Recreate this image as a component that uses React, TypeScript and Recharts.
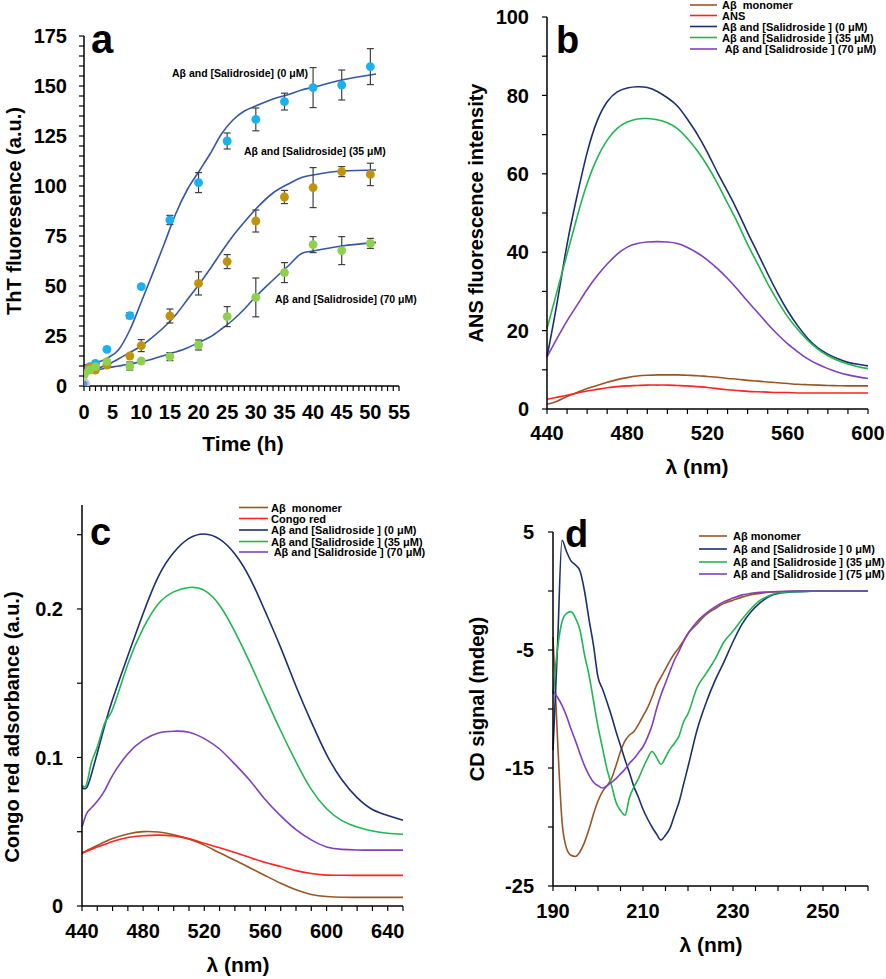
import { ComposedChart, LineChart, Line, Scatter, ErrorBar, XAxis, YAxis, ZAxis } from "recharts";

const FONT = '"Liberation Sans", Arial, Helvetica, sans-serif';

const BROWN = "#9A5524";
const RED = "#FF2222";
const NAVY = "#1C2F70";
const GREEN = "#20B650";
const PURPLE = "#7E40BF";
const FIT = "#3457A3";

// ---- a: ThT kinetics ----
const hours = [0, 1, 2, 4, 8, 10, 15, 20, 25, 30, 35, 40, 45, 50];
const tht0 = [6.3, 9.7, 11.3, 18.3, 35.2, 49.7, 83, 101.7, 122.5, 133.3, 142.2, 149.2, 150.5, 159.7];
const tht0Err = [0, 0, 0, 0, 1.5, 1, 2.3, 5, 4, 5.7, 4.2, 10, 7.5, 9];
const tht35 = [6, 9.3, 8, 10.5, 15, 20.2, 35, 51.3, 62.2, 82.5, 94.5, 99.2, 107.2, 105.8];
const tht35Err = [0, 0, 0, 0, 0, 3, 3.5, 5.8, 3.5, 5.5, 3.3, 10, 2.5, 5.6];
const tht70 = [5.5, 8, 9.7, 12.2, 10, 12.5, 14.7, 20.5, 34.7, 44.3, 56.7, 70.7, 67.7, 71.3];
const tht70Err = [0, 0, 0, 0, 2, 0, 2, 2.5, 5, 9.7, 5, 4, 7, 2.5];

const fitHours = [0, 2, 4, 6, 8, 10, 12, 14, 16, 18, 20, 22, 24, 26, 28, 30, 33, 36, 38, 40, 45, 51];
const fit0 = [10.5, 11.5, 13.8, 18, 28, 42, 56.3, 71, 86, 98, 107, 116, 126, 133, 137.5, 140, 143.5, 146, 148, 149.4, 153, 156];
const fit35 = [7, 8.5, 10.5, 13.5, 16.8, 20, 24.5, 29.5, 35.5, 43, 50.5, 58.5, 67, 75, 82, 88.5, 96.5, 101.5, 104.3, 105.5, 107.5, 108];
const fit70 = [6.3, 7.8, 9, 10, 11, 12.2, 13.5, 15.3, 17, 19, 21.7, 24.5, 28.5, 33, 38.5, 44.7, 53, 61, 66.3, 67.5, 70, 71.8];

// ---- b: ANS fluorescence ----
const ansNm = [440, 445, 450, 455, 460, 465, 470, 475, 480, 485, 490, 495, 500, 505, 510, 515, 520, 525, 530, 535, 540, 545, 550, 555, 560, 565, 570, 575, 580, 585, 590, 595, 600];
const ansMonomer = [1.2, 2, 3.2, 4.2, 5.2, 6, 6.8, 7.5, 8, 8.4, 8.6, 8.7, 8.7, 8.7, 8.6, 8.5, 8.3, 8.1, 7.8, 7.6, 7.3, 7.1, 6.9, 6.7, 6.5, 6.3, 6.2, 6.1, 6, 5.95, 5.9, 5.9, 5.9];
const ansDye = [2.5, 3, 3.5, 4.1, 4.6, 5, 5.4, 5.7, 5.9, 6, 6.1, 6.1, 6.1, 6, 5.9, 5.7, 5.5, 5.2, 4.9, 4.7, 4.5, 4.4, 4.3, 4.2, 4.2, 4.1, 4.1, 4.1, 4.1, 4.1, 4.1, 4.1, 4.1];
const ans0 = [13.3, 27, 42, 54.4, 65.4, 73.5, 78.4, 80.9, 81.9, 82.2, 82, 81, 79.4, 77.3, 73.9, 70, 65.4, 60.3, 55.5, 50.5, 45, 39.8, 34.5, 29.5, 25, 21.2, 18, 15.6, 14, 12.8, 11.9, 11.4, 11];
const ans35 = [20.5, 30, 39.5, 49, 57.5, 64, 68.6, 71.6, 73.2, 74, 74.1, 73.8, 73, 71.5, 69, 65.8, 62, 57.5, 52.5, 47.5, 42, 37, 32, 27.5, 23.5, 20.3, 17.5, 15.3, 13.6, 12.4, 11.5, 10.8, 10.3];
const ans70 = [13.3, 18, 22.5, 26.5, 30.5, 34, 37, 39.5, 41.3, 42.2, 42.6, 42.7, 42.6, 42.2, 41.2, 39.8, 38, 35.8, 33.3, 30.5, 27.5, 24.6, 21.7, 19, 16.6, 14.6, 12.8, 11.4, 10.3, 9.4, 8.7, 8.2, 7.8];

// ---- c: Congo red absorbance ----
const crNm = [440, 443, 446, 450, 455, 460, 470, 480, 490, 500, 510, 520, 530, 540, 550, 560, 570, 580, 590, 600, 610, 620, 630, 640, 650];
const crMonomer = [0.0358, 0.0372, 0.0388, 0.0408, 0.0432, 0.0455, 0.0485, 0.0501, 0.0498, 0.048, 0.0452, 0.041, 0.0358, 0.0308, 0.0256, 0.0204, 0.0153, 0.0109, 0.0078, 0.0064, 0.0059, 0.0058, 0.0058, 0.0058, 0.0058];
const crDye = [0.0353, 0.0368, 0.038, 0.0398, 0.0415, 0.0434, 0.0461, 0.0473, 0.0477, 0.0471, 0.0452, 0.0422, 0.0392, 0.036, 0.0326, 0.0293, 0.0266, 0.0238, 0.0219, 0.0208, 0.0207, 0.0206, 0.0206, 0.0206, 0.0206];
const cr0 = [0.0796, 0.0796, 0.088, 0.103, 0.122, 0.139, 0.1685, 0.197, 0.222, 0.238, 0.2475, 0.2505, 0.247, 0.237, 0.2205, 0.198, 0.174, 0.148, 0.124, 0.102, 0.085, 0.073, 0.065, 0.061, 0.0577];
const cr35 = [0.0812, 0.082, 0.096, 0.107, 0.1235, 0.1325, 0.163, 0.187, 0.2035, 0.2115, 0.2145, 0.2125, 0.2025, 0.1847, 0.1635, 0.1405, 0.118, 0.097, 0.0785, 0.0655, 0.0575, 0.0532, 0.0505, 0.049, 0.0483];
const cr70 = [0.0532, 0.0622, 0.066, 0.0705, 0.078, 0.088, 0.1025, 0.1117, 0.1165, 0.1177, 0.117, 0.1127, 0.1057, 0.0955, 0.0843, 0.0715, 0.0607, 0.0514, 0.0445, 0.0398, 0.0381, 0.0377, 0.0376, 0.0376, 0.0376];

// ---- d: CD spectra ----
const cdNm = [190, 191, 192, 193, 194, 195, 196, 197, 198, 199, 200, 201, 202, 203, 204, 205, 206, 207, 208, 209, 210, 211, 212, 213, 214, 215, 216, 217, 218, 219, 220, 222, 224, 226, 228, 230, 232, 234, 236, 238, 240, 245, 250, 255, 260];
const cdMonomer = [-3.9, -12.5, -19.5, -21.8, -22.4, -22.5, -22.1, -21.3, -20.2, -18.9, -17.8, -17, -16.5, -15.9, -14.8, -13.6, -12.7, -12.2, -11.9, -11.3, -10.6, -9.9, -9, -8, -7.3, -6.6, -5.9, -5.3, -4.8, -4.2, -3.6, -2.8, -2, -1.5, -1.05, -0.78, -0.52, -0.32, -0.2, -0.1, -0.06, 0, 0, 0, 0];
const cd0 = [-13.5, -4.7, 4.3, 3.35, 2.55, 2.2, 1.7, 0, -2.4, -4.6, -7.3, -8.3, -9.4, -10.6, -11.9, -13.1, -14.3, -15.4, -16.6, -17.5, -18.5, -19.3, -20, -20.6, -21.1, -20.7, -20.1, -19, -17.9, -16.4, -14.9, -11.8, -9.5, -7.6, -6, -4.3, -2.8, -1.75, -1, -0.47, -0.2, -0.05, 0, 0, 0];
const cd35 = [-8.7, -4.9, -2.6, -1.9, -1.75, -2.3, -3.3, -5.4, -7.1, -9.3, -11.5, -13.3, -15.1, -16.45, -17.9, -18.6, -19, -17.5, -16.6, -15.9, -15, -14.2, -13.6, -14.1, -14.7, -14.1, -13.4, -12.9, -12.3, -11.1, -10.4, -8.2, -7, -5.8, -4.3, -3.4, -2.4, -1.5, -0.8, -0.4, -0.15, -0.03, 0, 0, 0];
const cd75 = [-8.5, -9, -9.7, -10.6, -11.7, -12.7, -13.8, -14.8, -15.6, -16.2, -16.5, -16.7, -16.5, -16.2, -15.9, -15.5, -15.1, -14.6, -14.2, -13.7, -13.2, -12.4, -11.4, -10, -8.8, -7.8, -6.8, -5.85, -5.1, -4.3, -3.6, -2.6, -1.9, -1.35, -0.9, -0.6, -0.33, -0.2, -0.1, -0.08, -0.05, 0, 0, 0, 0];

const legendB = ["Aβ  monomer", "ANS", "Aβ and [Salidroside ] (0 μM)", "Aβ and [Salidroside ] (35 μM)", " Aβ and [Salidroside ] (70 μM)"];
const legendC = ["Aβ  monomer", "Congo red", "Aβ and [Salidroside ] (0 μM)", "Aβ and [Salidroside ] (35 μM)", " Aβ and [Salidroside ] (70 μM)"];
const legendD = ["Aβ monomer", "Aβ and [Salidroside ] 0 μM)", "Aβ and [Salidroside ] (35 μM)", "Aβ and [Salidroside ] (75 μM)"];

const pts = (ys: number[], errs: number[]) => hours.map((x, i) => ({ x, y: ys[i], err: errs[i] }));
const fitPts = (ys: number[]) => fitHours.map((x, i) => ({ x, y: ys[i] }));

const ansData = ansNm.map((nm, i) => ({ nm, mono: ansMonomer[i], dye: ansDye[i], s0: ans0[i], s35: ans35[i], s70: ans70[i] }));
const crData = crNm.map((nm, i) => ({ nm, mono: crMonomer[i], dye: crDye[i], s0: cr0[i], s35: cr35[i], s70: cr70[i] }));
const cdData = cdNm.map((nm, i) => ({ nm, mono: cdMonomer[i], s0: cd0[i], s35: cd35[i], s75: cd75[i] }));

const range = (a: number, b: number, s: number) => {
  const out: number[] = [];
  for (let v = a; v <= b + 1e-9; v += s) out.push(Math.round(v * 1000) / 1000);
  return out;
};

const tickStyle = { fill: "#000", fontSize: 20, fontWeight: 700, fontFamily: FONT };
const axisLine = { stroke: "#000", strokeWidth: 1.5 };
const tickLine = { stroke: "#000", strokeWidth: 1.2 };

const grayDot = (p: any) => (
  <g>
    <circle cx={p.cx} cy={p.cy} r={6} fill="#C9C9C9" />
    <circle cx={p.cx} cy={p.cy} r={3.5} fill="#5C8FD6" />
  </g>
);

function PanelA() {
  return (
    <ComposedChart width={440} height={480} margin={{ top: 36, right: 41, bottom: 64, left: 24 }}>
      <XAxis type="number" dataKey="x" domain={[0, 55]} ticks={range(0, 55, 1)} interval={0}
        tickFormatter={(v: number) => (v % 5 === 0 ? String(v) : "")} tick={tickStyle} tickSize={5} tickMargin={14}
        axisLine={axisLine} tickLine={tickLine} height={30} allowDataOverflow />
      <YAxis type="number" dataKey="y" domain={[0, 175]} ticks={range(0, 175, 5)} interval={0}
        tickFormatter={(v: number) => (v % 25 === 0 ? String(v) : "")} tick={tickStyle} tickSize={5} tickMargin={12}
        axisLine={axisLine} tickLine={tickLine} width={60} allowDataOverflow />
      <ZAxis range={[62, 62]} />
      <Line data={fitPts(fit0)} dataKey="y" type="monotone" stroke={FIT} strokeWidth={1.6} dot={false} isAnimationActive={false} />
      <Line data={fitPts(fit35)} dataKey="y" type="monotone" stroke={FIT} strokeWidth={1.6} dot={false} isAnimationActive={false} />
      <Line data={fitPts(fit70)} dataKey="y" type="monotone" stroke={FIT} strokeWidth={1.6} dot={false} isAnimationActive={false} />
      <Scatter data={pts(tht0, tht0Err)} fill="#1CB0EE" isAnimationActive={false}>
        <ErrorBar dataKey="err" direction="y" width={3.5} stroke="#404040" strokeWidth={1.2} isAnimationActive={false} />
      </Scatter>
      <Scatter data={pts(tht35, tht35Err)} fill="#C0930F" isAnimationActive={false}>
        <ErrorBar dataKey="err" direction="y" width={3.5} stroke="#404040" strokeWidth={1.2} isAnimationActive={false} />
      </Scatter>
      <Scatter data={pts(tht70, tht70Err)} fill="#8FD14F" isAnimationActive={false}>
        <ErrorBar dataKey="err" direction="y" width={3.5} stroke="#404040" strokeWidth={1.2} isAnimationActive={false} />
      </Scatter>
      <Scatter data={[{ x: 0, y: 1 }]} fill="#C9C9C9" shape={grayDot} isAnimationActive={false} />
    </ComposedChart>
  );
}

function PanelB() {
  return (
    <LineChart width={446} height={490} data={ansData} margin={{ top: 17, right: 18, bottom: 51, left: 47 }}>
      <XAxis type="number" dataKey="nm" domain={[440, 600]} ticks={range(440, 600, 10)} interval={0}
        tickFormatter={(v: number) => ((v - 440) % 40 === 0 ? String(v) : "")} tick={tickStyle} tickSize={5} tickMargin={12}
        axisLine={axisLine} tickLine={tickLine} height={30} />
      <YAxis type="number" domain={[0, 100]} ticks={range(0, 100, 10)} interval={0}
        tickFormatter={(v: number) => (v % 20 === 0 ? String(v) : "")} tick={tickStyle} tickSize={5} tickMargin={13}
        axisLine={axisLine} tickLine={tickLine} width={60} />
      <Line dataKey="mono" type="natural" stroke={BROWN} strokeWidth={1.6} dot={false} isAnimationActive={false} />
      <Line dataKey="dye" type="natural" stroke={RED} strokeWidth={1.6} dot={false} isAnimationActive={false} />
      <Line dataKey="s0" type="natural" stroke={NAVY} strokeWidth={1.6} dot={false} isAnimationActive={false} />
      <Line dataKey="s35" type="natural" stroke={GREEN} strokeWidth={1.6} dot={false} isAnimationActive={false} />
      <Line dataKey="s70" type="natural" stroke={PURPLE} strokeWidth={1.6} dot={false} isAnimationActive={false} />
    </LineChart>
  );
}

function PanelC() {
  return (
    <LineChart width={440} height={489} data={crData} margin={{ top: 15, right: 37, bottom: 43, left: 22 }}>
      <XAxis type="number" dataKey="nm" domain={[440, 650]} ticks={range(440, 650, 10)} interval={0}
        tickFormatter={(v: number) => ((v - 440) % 40 === 0 ? String(v) : "")} tick={tickStyle} tickSize={5} tickMargin={13}
        axisLine={axisLine} tickLine={tickLine} height={30} />
      <YAxis type="number" domain={[0, 0.27]} ticks={[0, 0.05, 0.1, 0.15, 0.2, 0.25]} interval={0}
        tickFormatter={(v: number) => (Math.round(v * 100) % 10 === 0 ? String(v) : "")} tick={tickStyle} tickSize={5} tickMargin={14}
        axisLine={axisLine} tickLine={tickLine} width={60} />
      <Line dataKey="mono" type="natural" stroke={BROWN} strokeWidth={1.6} dot={false} isAnimationActive={false} />
      <Line dataKey="dye" type="natural" stroke={RED} strokeWidth={1.6} dot={false} isAnimationActive={false} />
      <Line dataKey="s0" type="natural" stroke={NAVY} strokeWidth={1.6} dot={false} isAnimationActive={false} />
      <Line dataKey="s35" type="natural" stroke={GREEN} strokeWidth={1.6} dot={false} isAnimationActive={false} />
      <Line dataKey="s70" type="natural" stroke={PURPLE} strokeWidth={1.6} dot={false} isAnimationActive={false} />
    </LineChart>
  );
}

function PanelD() {
  return (
    <LineChart width={446} height={489} data={cdData} margin={{ top: 42, right: 18, bottom: 63, left: 53 }}>
      <XAxis type="number" dataKey="nm" domain={[190, 260]} ticks={range(190, 260, 5)} interval={0}
        tickFormatter={(v: number) => ((v - 190) % 20 === 0 ? String(v) : "")} tick={tickStyle} tickSize={5} tickMargin={13}
        axisLine={axisLine} tickLine={tickLine} height={30} />
      <YAxis type="number" domain={[-25, 5]} ticks={range(-25, 5, 5)} interval={0}
        tickFormatter={(v: number) => ((v + 25) % 10 === 0 ? String(v) : "")} tick={tickStyle} tickSize={5} tickMargin={14}
        axisLine={axisLine} tickLine={tickLine} width={60} />
      <Line dataKey="mono" type="monotone" stroke={BROWN} strokeWidth={1.6} dot={false} isAnimationActive={false} />
      <Line dataKey="s0" type="monotone" stroke={NAVY} strokeWidth={1.6} dot={false} isAnimationActive={false} />
      <Line dataKey="s35" type="monotone" stroke={GREEN} strokeWidth={1.6} dot={false} isAnimationActive={false} />
      <Line dataKey="s75" type="monotone" stroke={PURPLE} strokeWidth={1.6} dot={false} isAnimationActive={false} />
    </LineChart>
  );
}

function Legend({ x1, x2, tx, ys, labels, colors, size }: { x1: number; x2: number; tx: number; ys: number[]; labels: string[]; colors: string[]; size: number }) {
  return (
    <g>
      {labels.map((l, i) => (
        <g key={i}>
          <line x1={x1} x2={x2} y1={ys[i]} y2={ys[i]} stroke={colors[i]} strokeWidth={1.6} />
          <text x={tx} y={ys[i] + 4} fontSize={size} fontWeight={700} fontFamily={FONT} style={{ whiteSpace: "pre" }}>{l}</text>
        </g>
      ))}
    </g>
  );
}

const title = { fontFamily: FONT, fontWeight: 700, fill: "#000" } as const;

export default function App() {
  return (
    <div style={{ position: "absolute", left: 0, top: 0, width: 886, height: 979, background: "#fff" }}>
      <div style={{ position: "absolute", left: 0, top: 0 }}><PanelA /></div>
      <div style={{ position: "absolute", left: 440, top: 0 }}><PanelB /></div>
      <div style={{ position: "absolute", left: 0, top: 490 }}><PanelC /></div>
      <div style={{ position: "absolute", left: 440, top: 490 }}><PanelD /></div>
      <svg width={886} height={979} style={{ position: "absolute", left: 0, top: 0, pointerEvents: "none" }}>
        <text x={91} y={53} fontSize={40} {...title}>a</text>
        <text x={556} y={53} fontSize={38} {...title}>b</text>
        <text x={90} y={545} fontSize={38} {...title}>c</text>
        <text x={565} y={547} fontSize={38} {...title}>d</text>

        <text x={172} y={77} fontSize={10.5} {...title}>Aβ and [Salidroside] (0 μM)</text>
        <text x={244} y={155} fontSize={10.5} {...title}>Aβ and [Salidroside] (35 μM)</text>
        <text x={275} y={303} fontSize={10.5} {...title}>Aβ and [Salidroside] (70 μM)</text>

        <text transform="translate(21,211) rotate(-90)" textAnchor="middle" fontSize={20} {...title}>ThT fluoresence (a.u.)</text>
        <text x={243} y={451} textAnchor="middle" fontSize={21} {...title}>Time (h)</text>
        <text transform="translate(483,213) rotate(-90)" textAnchor="middle" fontSize={20} {...title}>ANS fluorescence intensity</text>
        <text x={697} y={474} textAnchor="middle" fontSize={21} {...title}>λ (nm)</text>
        <text transform="translate(19,727) rotate(-90)" textAnchor="middle" fontSize={20} {...title}>Congo red adsorbance (a.u.)</text>
        <text x={238} y={972} textAnchor="middle" fontSize={21} {...title}>λ (nm)</text>
        <text transform="translate(484,699) rotate(-90)" textAnchor="middle" fontSize={20} {...title}>CD signal (mdeg)</text>
        <text x={711} y={952} textAnchor="middle" fontSize={21} {...title}>λ (nm)</text>

        <Legend x1={690} x2={717} tx={722} ys={[5, 15.5, 26.5, 37.5, 49]} labels={legendB} colors={[BROWN, RED, NAVY, GREEN, PURPLE]} size={11} />
        <Legend x1={239} x2={268} tx={271} ys={[507.5, 518.5, 530, 541.5, 552]} labels={legendC} colors={[BROWN, RED, NAVY, GREEN, PURPLE]} size={11} />
        <Legend x1={699} x2={727} tx={733} ys={[536, 549, 562, 574]} labels={legendD} colors={[BROWN, NAVY, GREEN, PURPLE]} size={11} />
      </svg>
    </div>
  );
}
